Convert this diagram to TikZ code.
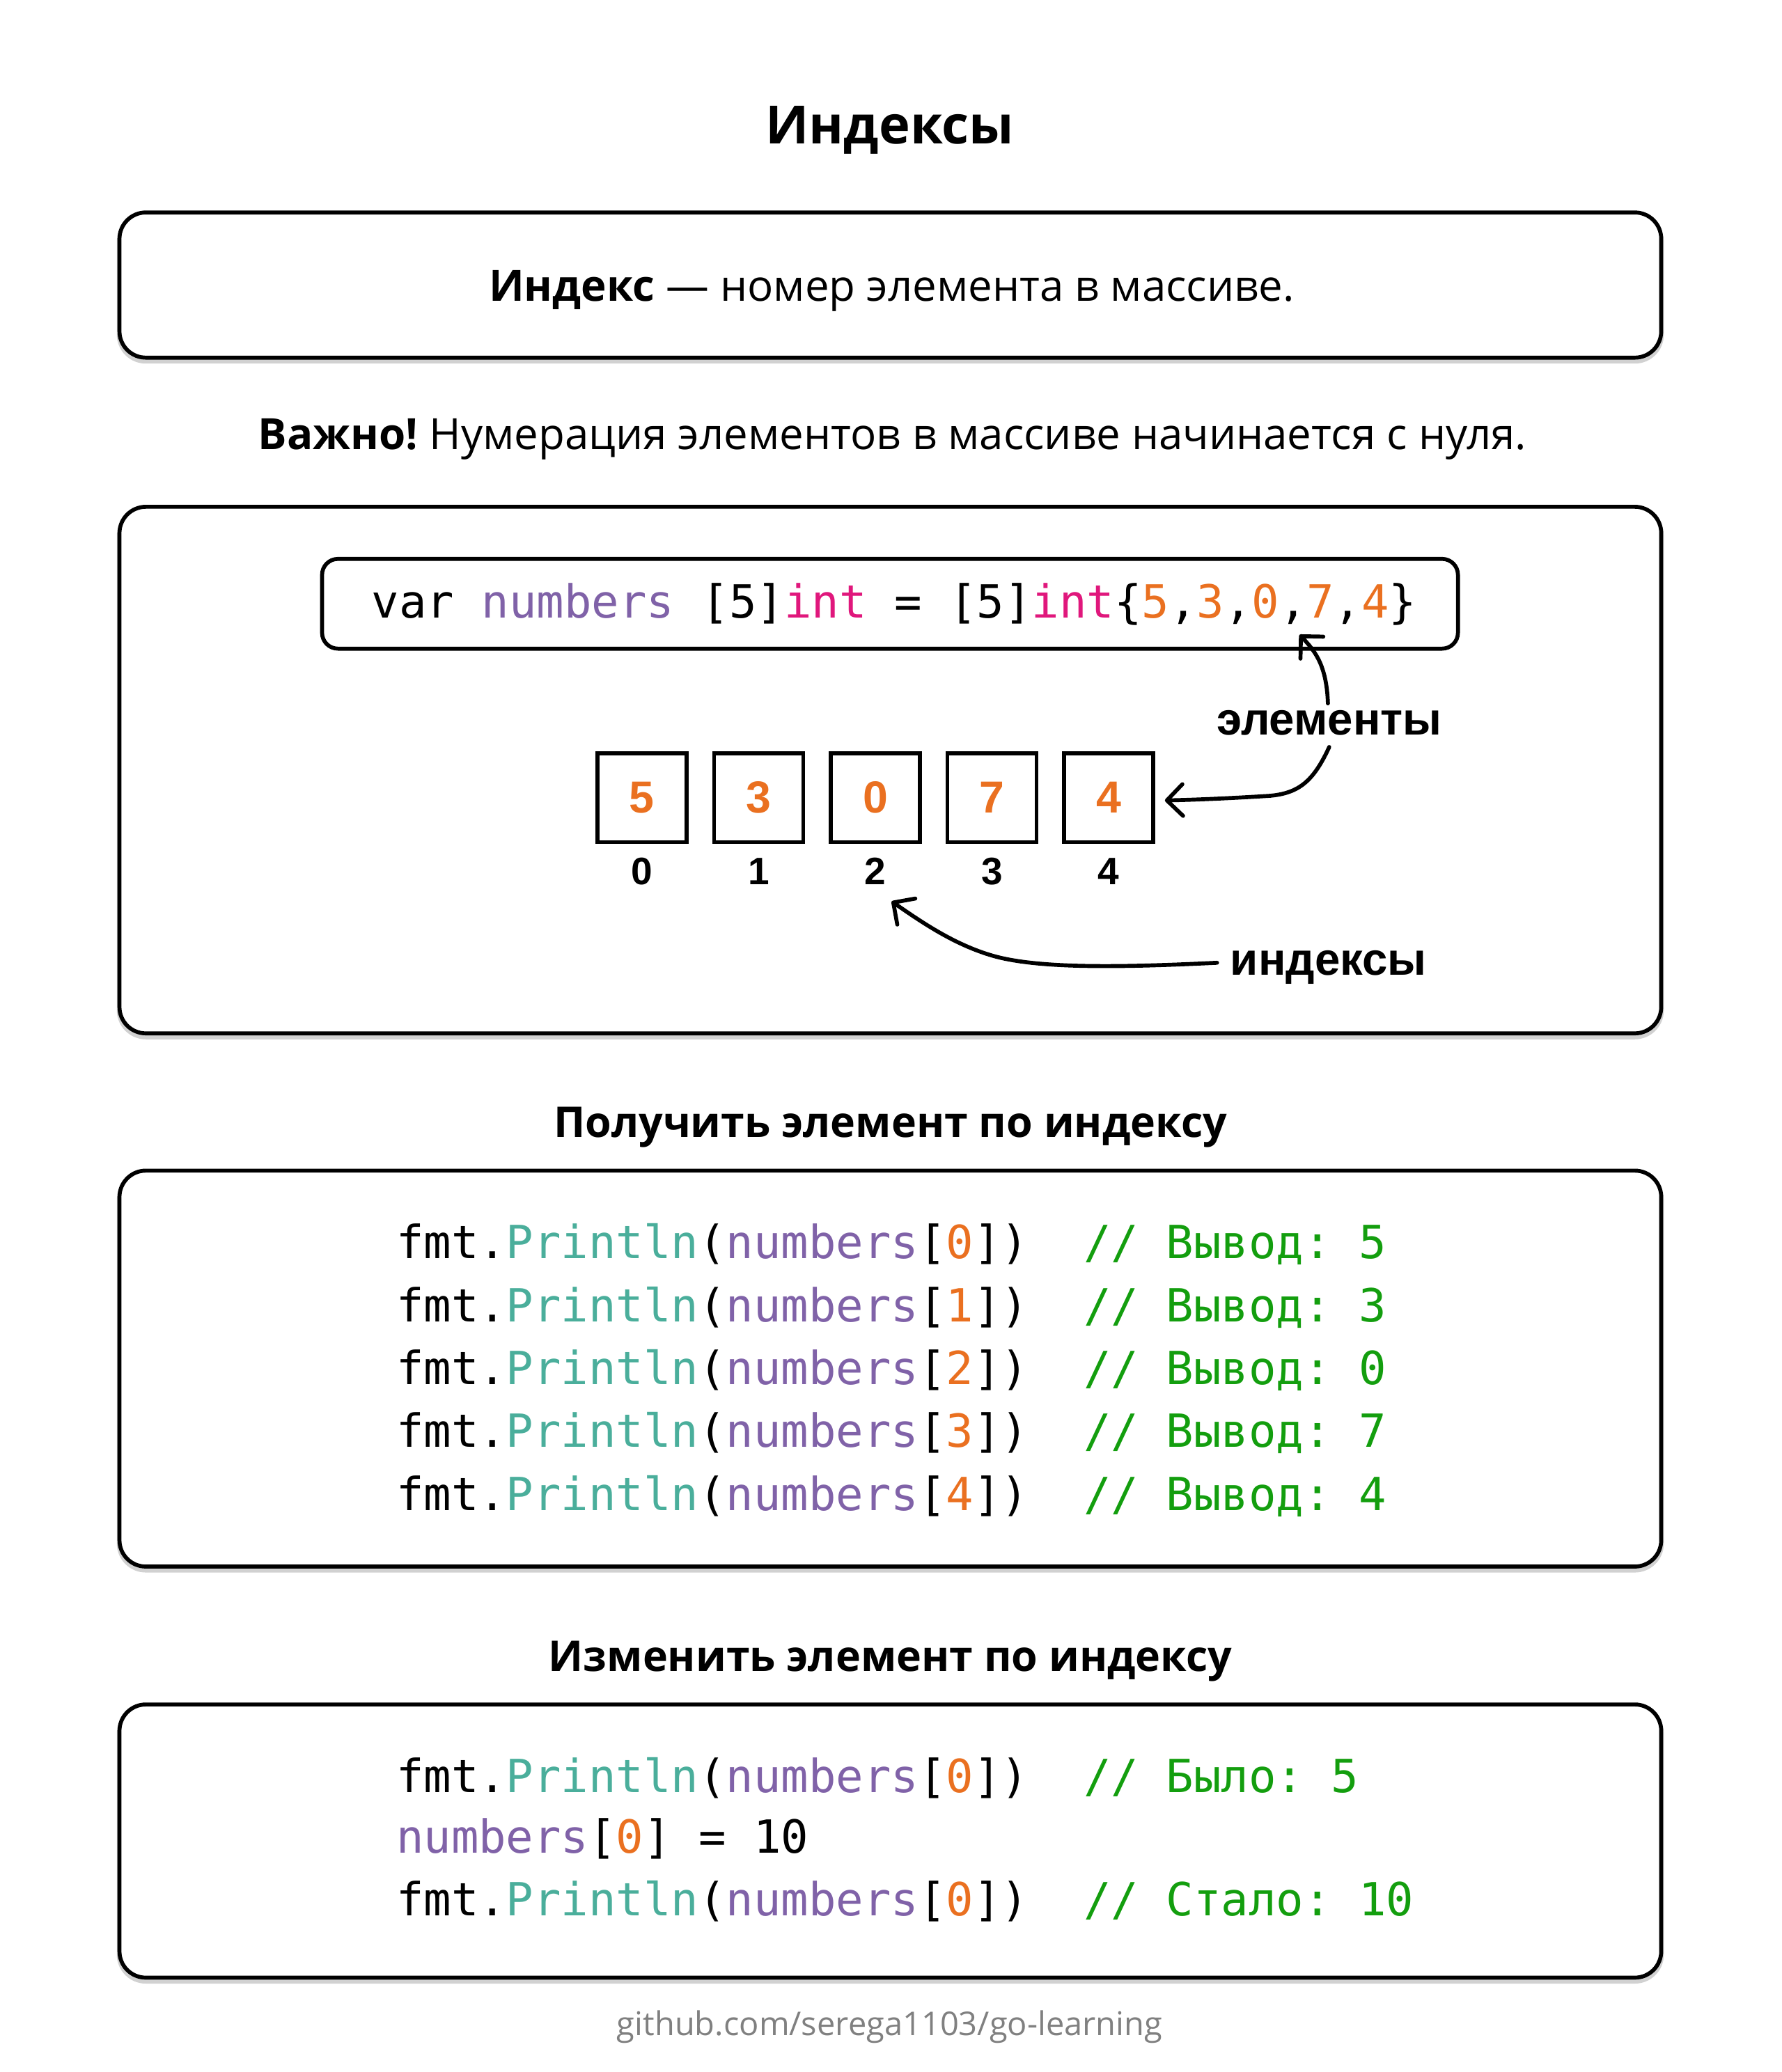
\documentclass[tikz,border=0pt]{standalone}
\usepackage{fontspec}
\setmainfont{Open Sans}
\newfontfamily\labfont{Liberation Sans}
\newfontfamily\codefont{DejaVu Sans Mono}
\usetikzlibrary{arrows.meta}
\definecolor{cpurple}{RGB}{128,98,168}
\definecolor{cpink}{RGB}{224,23,124}
\definecolor{corange}{RGB}{234,112,32}
\definecolor{cteal}{RGB}{74,174,155}
\definecolor{cgreen}{RGB}{19,158,14}
\definecolor{cfoot}{RGB}{128,128,128}
\newcommand\fsz[1]{\fontsize{#1}{#1}\selectfont}
\newcommand\cP[1]{\textcolor{cpurple}{#1}}
\newcommand\cK[1]{\textcolor{cpink}{#1}}
\newcommand\cO[1]{\textcolor{corange}{#1}}
\newcommand\cT[1]{\textcolor{cteal}{#1}}
\newcommand\cG[1]{\textcolor{cgreen}{#1}}
\begin{document}
\frenchspacing
\begin{tikzpicture}[x=1pt,y=-1pt,
  panel/.style={draw=black, line width=3pt, rounded corners=20pt, fill=white, inner sep=0pt},
  panelshadow/.style={draw=black!18, line width=4pt, rounded corners=20pt, inner sep=0pt},
  codebox/.style={draw=black, line width=3pt, rounded corners=12pt, fill=white, inner sep=0pt},
  cell/.style={draw=black, line width=3pt, minimum width=67.5pt, minimum height=67.5pt, inner sep=0pt, text=corange, font=\labfont\bfseries\fsz{34}},
  idx/.style={anchor=base, inner sep=0pt, font=\labfont\bfseries\fsz{29}},
  lab/.style={anchor=base west, inner sep=0pt, font=\labfont\bfseries\fsz{34.5}},
  head/.style={anchor=base, inner sep=0pt, font=\bfseries\fsz{32.1}},
  body/.style={anchor=base, inner sep=0pt, font=\fsz{32.6}},
  code/.style={anchor=base west, inner sep=0pt, font=\codefont\fsz{34.6}},
  ptr/.style={line width=3pt, line cap=round, -{Straight Barb[length=12pt,width=24pt,round]}}
]
\useasboundingbox (0,0) rectangle (1350,1570);
\fill[white] (0,0) rectangle (1350,1570);

% title
\node[anchor=base, inner sep=0pt, font=\bfseries\fsz{40}] (title) at (674,108.8) {Индексы};

% panel 1
\node[panelshadow, minimum width=1168pt, minimum height=110pt] (s1) at (674.5,218.5) {};
\node[panel, minimum width=1168pt, minimum height=110pt] (p1) at (674.5,216) {};
\node[body] (t1) at (675.5,228.3) {\textbf{Индекс} — номер элемента в массиве.};

\node[body] (t2) at (676,340.6) {\textbf{Важно!} Нумерация элементов в массиве начинается с нуля.};

% panel 2
\node[panelshadow, minimum width=1168pt, minimum height=399pt] (s2) at (674.5,586) {};
\node[panel, minimum width=1168pt, minimum height=399pt] (p2) at (674.5,583.5) {};
\node[codebox, minimum width=860.5pt, minimum height=68pt] (cb) at (674.25,457.5) {};
\node[code] (decl) at (281.5,468) {var \cP{numbers} [5]\cK{int} = [5]\cK{int}\{\cO{5},\cO{3},\cO{0},\cO{7},\cO{4}\}};

\foreach \v [count=\i from 0] in {5,3,0,7,4} {
  \node[cell] (e\i) at (486.3+88.4*\i,604.4) {\v};
  \node[idx] (i\i) at (486.3+88.4*\i,670.5) {\i};
}

\node[lab] (el) at (921.8,557) {элементы};
\node[lab] (ix) at (931.9,738.8) {индексы};

\coordinate (aS) at (1006,533);
\coordinate (aT) at (984.5,481);
\draw[ptr] (aS) .. controls (1005,505) and (997,494) .. (aT);

\coordinate (bS) at (1007,566);
\coordinate (bM) at (962,603);
\coordinate (bT) at (882.5,606.5);
\draw[ptr] (bS) .. controls (995,592) and (984,601) .. (bM) .. controls (930,605) and (905,606) .. (bT);

\coordinate (cS) at (922,729.5);
\coordinate (cM) at (755,725);
\coordinate (cT) at (675.5,683);
\draw[ptr] (cS) .. controls (850,733) and (790,734) .. (cM) .. controls (725,717) and (700,700) .. (cT);

% heading 1 and panel 3
\node[head] (h1) at (674.5,861.6) {Получить элемент по индексу};
\node[panelshadow, minimum width=1168pt, minimum height=300pt] (s3) at (674.5,1039.5) {};
\node[panel, minimum width=1168pt, minimum height=300pt] (p3) at (674.5,1037) {};
\node[code] (g0) at (300,953.6) {fmt.\cT{Println}(\cP{numbers}[\cO{0}])\ \ \cG{// Вывод: 5}};
\node[code] (g1) at (300,1001.3) {fmt.\cT{Println}(\cP{numbers}[\cO{1}])\ \ \cG{// Вывод: 3}};
\node[code] (g2) at (300,1049) {fmt.\cT{Println}(\cP{numbers}[\cO{2}])\ \ \cG{// Вывод: 0}};
\node[code] (g3) at (300,1096.7) {fmt.\cT{Println}(\cP{numbers}[\cO{3}])\ \ \cG{// Вывод: 7}};
\node[code] (g4) at (300,1144.4) {fmt.\cT{Println}(\cP{numbers}[\cO{4}])\ \ \cG{// Вывод: 4}};

% heading 2 and panel 4
\node[head] (h2) at (674.5,1266.6) {Изменить элемент по индексу};
\node[panelshadow, minimum width=1168pt, minimum height=207pt] (s4) at (674.5,1397.5) {};
\node[panel, minimum width=1168pt, minimum height=207pt] (p4) at (674.5,1395) {};
\node[code] (m0) at (300,1358) {fmt.\cT{Println}(\cP{numbers}[\cO{0}])\ \ \cG{// Было: 5}};
\node[code] (m1) at (300,1404.3) {\cP{numbers}[\cO{0}] = 10};
\node[code] (m2) at (300,1451.5) {fmt.\cT{Println}(\cP{numbers}[\cO{0}])\ \ \cG{// Стало: 10}};

% footer
\node[anchor=base, inner sep=0pt, font=\fsz{24.8}, text=cfoot] (foot) at (674,1542.4) {github.com/serega1103/go-learning};
\end{tikzpicture}
\end{document}
